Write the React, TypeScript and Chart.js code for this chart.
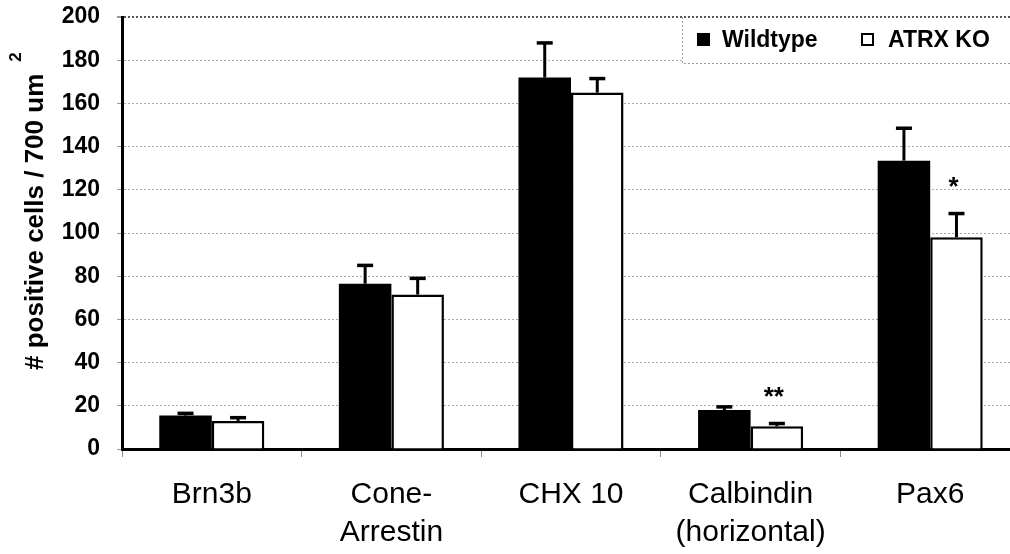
import React, { useEffect, useRef } from 'react';
import { Chart, registerables } from 'chart.js';

Chart.register(...registerables);

const categories: string[][] = [['Brn3b'], ['Cone-', 'Arrestin'], ['CHX 10'], ['Calbindin', '(horizontal)'], ['Pax6']];
const seriesNames = ['Wildtype', 'ATRX KO'];
const wildtype = [15.5, 76.5, 172, 18, 133.5];
const wildtypeErr = [1, 8.5, 16, 1.5, 15];
const atrxKo = [13, 71.5, 165, 10.5, 98];
const atrxKoErr = [1.5, 7.5, 6.5, 1.3, 11];
const significance = ['', '', '', '**', '*'];
const yTicks = [0, 20, 40, 60, 80, 100, 120, 140, 160, 180, 200];
const yTitle = '# positive cells / 700 um';
const yTitleSup = '2';

const FONT = '"Liberation Sans", Arial, Helvetica, sans-serif';

const errorBarPlugin = {
  id: 'errorBars',
  afterDatasetsDraw(chart: any) {
    const ctx = chart.ctx;
    const y = chart.scales.y;
    const errs = [wildtypeErr, atrxKoErr];
    chart.data.datasets.forEach((ds: any, di: number) => {
      const meta = chart.getDatasetMeta(di);
      meta.data.forEach((bar: any, i: number) => {
        const top = y.getPixelForValue(ds.data[i] + errs[di][i]);
        ctx.save();
        ctx.strokeStyle = '#000';
        ctx.lineWidth = 3;
        ctx.beginPath();
        ctx.moveTo(bar.x, bar.y);
        ctx.lineTo(bar.x, top);
        ctx.stroke();
        ctx.lineWidth = 3.5;
        ctx.beginPath();
        ctx.moveTo(bar.x - 8, top);
        ctx.lineTo(bar.x + 8, top);
        ctx.stroke();
        if (di === 1 && significance[i]) {
          ctx.fillStyle = '#000';
          ctx.font = `bold 26px ${FONT}`;
          ctx.textAlign = 'center';
          ctx.textBaseline = 'middle';
          ctx.fillText(significance[i], bar.x - 3, top - 26);
        }
        ctx.restore();
      });
    });
  },
};

const decorPlugin = {
  id: 'decor',
  afterDraw(chart: any) {
    const ctx = chart.ctx;
    const area = chart.chartArea;
    // legend box
    const lx = 682;
    const ly = area.top;
    const lb = area.top + 46;
    ctx.save();
    ctx.fillStyle = '#fff';
    ctx.fillRect(lx, ly + 1.5, chart.width - lx, lb - ly - 1.5);
    ctx.strokeStyle = '#999';
    ctx.lineWidth = 1;
    ctx.setLineDash([2, 2]);
    ctx.beginPath();
    ctx.moveTo(lx + 0.5, ly);
    ctx.lineTo(lx + 0.5, lb + 0.5);
    ctx.lineTo(chart.width, lb + 0.5);
    ctx.stroke();
    ctx.setLineDash([]);
    ctx.fillStyle = '#000';
    ctx.fillRect(697, ly + 16, 13, 13);
    ctx.strokeStyle = '#000';
    ctx.lineWidth = 2;
    ctx.strokeRect(862, ly + 17, 11, 11);
    ctx.font = `bold 23px ${FONT}`;
    ctx.textAlign = 'left';
    ctx.textBaseline = 'alphabetic';
    ctx.fillText(seriesNames[0], 722, ly + 30);
    ctx.fillText(seriesNames[1], 888, ly + 30);
    ctx.restore();

    // y axis title
    ctx.save();
    ctx.translate(43, 370);
    ctx.rotate(-Math.PI / 2);
    ctx.fillStyle = '#000';
    ctx.font = `bold 26px ${FONT}`;
    ctx.textAlign = 'left';
    ctx.textBaseline = 'alphabetic';
    ctx.fillText(yTitle, 0, 0);
    const w = ctx.measureText(yTitle).width;
    ctx.font = `bold 17px ${FONT}`;
    ctx.fillText(yTitleSup, w + 12, -22);
    ctx.restore();
  },
};

export default function App() {
  const ref = useRef<HTMLCanvasElement>(null);
  useEffect(() => {
    if (!ref.current) return;
    const chart = new Chart(ref.current, {
      type: 'bar',
      data: {
        labels: categories,
        datasets: [
          {
            label: seriesNames[0],
            data: wildtype,
            backgroundColor: '#000',
            borderWidth: 0,
            categoryPercentage: 0.585,
            barPercentage: 1,
          },
          {
            label: seriesNames[1],
            data: atrxKo,
            backgroundColor: '#fff',
            borderColor: '#000',
            borderWidth: 2.5,
            categoryPercentage: 0.585,
            barPercentage: 1,
          },
        ],
      },
      options: {
        animation: false,
        responsive: false,
        maintainAspectRatio: false,
        layout: { padding: { top: 17, right: 10, left: 0, bottom: 0 } },
        plugins: {
          legend: { display: false },
          tooltip: { enabled: false },
        },
        scales: {
          x: {
            afterFit(scale: any) {
              scale.height = 105;
            },
            grid: {
              display: true,
              drawOnChartArea: false,
              drawTicks: true,
              tickLength: 8,
              tickColor: '#888',
              offset: true,
            },
            border: { display: true, color: '#000', width: 3 },
            ticks: {
              color: '#000',
              font: { family: FONT, size: 30, lineHeight: 1.25 },
              padding: 19,
              maxRotation: 0,
              minRotation: 0,
              autoSkip: false,
            },
          },
          y: {
            min: 0,
            max: 200,
            afterFit(scale: any) {
              scale.width = 122;
              scale.paddingTop = 0;
              scale.paddingBottom = 0;
            },
            afterBuildTicks(scale: any) {
              scale.ticks = yTicks.map((v) => ({ value: v }));
            },
            grid: {
              color: (c: any) => (c.tick && c.tick.value === 200 ? '#555' : '#aaa'),
              lineWidth: (c: any) => (c.tick && c.tick.value === 200 ? 2 : 1),
              drawTicks: true,
              tickLength: 5,
              tickColor: '#999',
            },
            border: { display: true, color: '#000', width: 3, dash: [2, 2] },
            ticks: {
              color: '#000',
              font: { family: FONT, size: 23, weight: 'bold' },
              padding: 17,
            },
          },
        },
      },
      plugins: [errorBarPlugin, decorPlugin],
    } as any);
    return () => chart.destroy();
  }, []);

  return (
    <div
      style={{
        position: 'absolute',
        left: 0,
        top: 0,
        width: 1010,
        height: 554,
        overflow: 'hidden',
        background: '#fff',
      }}
    >
      <canvas ref={ref} width={1030} height={554} style={{ display: 'block' }} />
    </div>
  );
}
